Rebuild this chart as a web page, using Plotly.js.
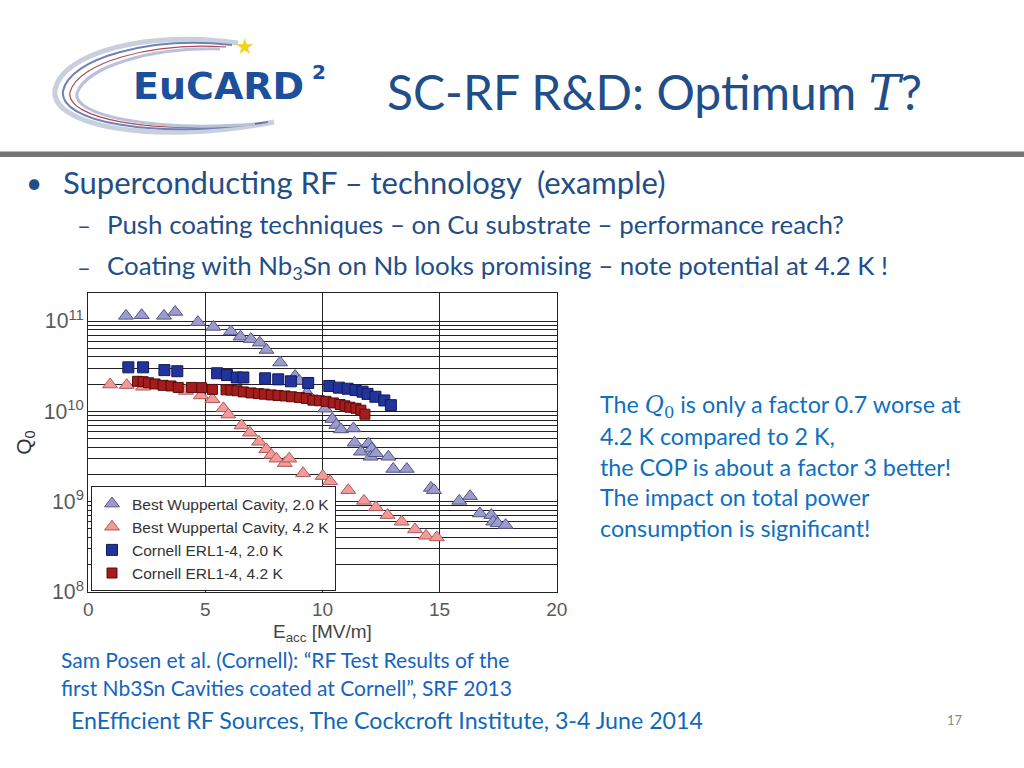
<!DOCTYPE html>
<html>
<head>
<meta charset="utf-8">
<script src="https://cdn.plot.ly/plotly-3.0.1.min.js"></script>
<style>
  html, body { margin: 0; padding: 0; background: #ffffff; }
  #slide { width: 1024px; height: 768px; }
</style>
</head>
<body>
<div id="slide"></div>
<script>
// ---------------- DATA ----------------
// Best Wuppertal Cavity, 2.0 K
const wupp20_E = [1.61, 2.28, 3.23, 3.71, 4.68, 5.34, 6.09, 6.50, 6.94, 7.32, 7.61, 8.19, 8.83, 9.01, 9.34,
                  10.11, 10.42, 10.59, 10.79, 11.32, 11.37, 11.64, 11.96, 12.10, 12.06, 12.28, 12.81, 13.02, 13.60,
                  14.63, 14.76, 15.84, 16.30, 16.72, 17.21, 17.29, 17.48, 17.82];
const wupp20_Q = [1.14e11, 1.16e11, 1.14e11, 1.26e11, 9.7e10, 8.6e10, 7.66e10, 6.7e10, 6.3e10, 5.75e10, 4.78e10, 3.47e10, 2.46e10, 2.17e10, 1.6e10,
                  1.07e10, 8.2e9, 7.05e9, 6.3e9, 6.46e9, 4.49e9, 3.57e9, 4.4e9, 3.87e9, 3.14e9, 3.43e9, 3.14e9, 2.3e9, 2.3e9,
                  1.42e9, 1.34e9, 1.02e9, 1.15e9, 7.4e8, 7.1e8, 6.0e8, 5.75e8, 5.5e8];
// Best Wuppertal Cavity, 4.2 K
const wupp42_E = [0.93, 1.64, 2.34, 4.17, 4.81, 5.30, 5.77, 5.98, 6.54, 6.90, 7.29, 7.60, 7.81, 8.03, 8.39, 8.58,
                  9.17, 10.01, 10.32, 11.10, 11.77, 12.28, 12.78, 13.38, 13.95, 14.42, 14.88];
const wupp42_Q = [1.98e10, 1.95e10, 1.87e10, 1.68e10, 1.50e10, 1.36e10, 1.08e10, 9.2e9, 6.97e9, 5.8e9, 4.6e9, 3.8e9, 3.28e9, 2.99e9, 2.67e9, 2.99e9,
                  2.06e9, 1.92e9, 1.68e9, 1.34e9, 1.02e9, 8.65e8, 7.1e8, 5.99e8, 4.93e8, 4.19e8, 4.02e8];
// Cornell ERL1-4, 2.0 K
const cornell20_E = [1.71, 2.34, 3.25, 3.80, 5.50, 5.92, 6.34, 6.62, 7.55, 8.11, 8.65, 9.39, 10.29, 10.70, 11.07,
                     11.41, 11.71, 11.92, 12.26, 12.64, 12.92];
const cornell20_Q = [3.07e10, 3.07e10, 2.86e10, 2.78e10, 2.64e10, 2.52e10, 2.37e10, 2.37e10, 2.32e10, 2.26e10, 2.15e10, 2.06e10, 1.91e10, 1.83e10, 1.78e10,
                     1.72e10, 1.65e10, 1.56e10, 1.45e10, 1.32e10, 1.17e10];
// Cornell ERL1-4, 4.2 K
const cornell42_E = [2.10, 2.34, 2.57, 2.85, 3.19, 3.53, 3.84, 4.41, 4.84, 5.30, 5.88, 6.09, 6.35, 6.62, 6.95, 7.26, 7.52,
                     7.81, 8.10, 8.40, 8.68, 9.02, 9.31, 9.59, 9.87, 10.15, 10.46, 10.75, 10.96, 11.17, 11.43, 11.64, 11.81];
const cornell42_Q = [2.15e10, 2.13e10, 2.07e10, 2.01e10, 1.94e10, 1.91e10, 1.84e10, 1.84e10, 1.83e10, 1.75e10, 1.73e10, 1.72e10, 1.69e10, 1.64e10, 1.60e10, 1.57e10, 1.55e10,
                     1.52e10, 1.50e10, 1.48e10, 1.45e10, 1.42e10, 1.39e10, 1.33e10, 1.31e10, 1.29e10, 1.24e10, 1.19e10, 1.15e10, 1.11e10, 1.08e10, 1.03e10, 9.3e9];

const seriesNames = ["Best Wuppertal Cavity, 2.0 K", "Best Wuppertal Cavity, 4.2 K",
                     "Cornell ERL1-4, 2.0 K", "Cornell ERL1-4, 4.2 K"];
const xTickVals = [0, 5, 10, 15, 20];

// ---------------- helpers: slide pixel -> paper fraction ----------------
const W = 1024, H = 768;
const PX = p => p / W;
const PY = p => 1 - p / H;

const ser = "font-family:'DejaVu Serif'";
const darkBlue = "#1f4e89";
const lightBlue = "#1068b8";
const txt = (text, x, y, size, color, extra) => Object.assign({
  text: text, x: PX(x), y: PY(y), xref: "paper", yref: "paper",
  xanchor: "left", yanchor: "middle", showarrow: false,
  font: {family: "Lato, 'Open Sans', sans-serif", size: size, color: color}
}, extra || {});

// path helper (pixel coordinates -> paper path)
function pth(cmds) {
  return cmds.map(c => {
    if (typeof c === "string") return c;
    return PX(c[0]).toFixed(5) + "," + PY(c[1]).toFixed(5);
  }).join(" ");
}

// ---------------- traces ----------------
const traces = [
  {x: wupp20_E, y: wupp20_Q, name: seriesNames[0], type: "scatter", mode: "markers",
   marker: {symbol: "triangle-up", size: 13, color: "#9c9ccc", line: {color: "#54548a", width: 1}}},
  {x: wupp42_E, y: wupp42_Q, name: seriesNames[1], type: "scatter", mode: "markers",
   marker: {symbol: "triangle-up", size: 13, color: "#f09a9a", line: {color: "#b05a5a", width: 1}}},
  {x: cornell20_E, y: cornell20_Q, name: seriesNames[2], type: "scatter", mode: "markers",
   marker: {symbol: "square", size: 11, color: "#22339a", line: {color: "#101a5a", width: 1}}},
  {x: cornell42_E, y: cornell42_Q, name: seriesNames[3], type: "scatter", mode: "markers",
   marker: {symbol: "square", size: 10, color: "#a51c1c", line: {color: "#5a0c0c", width: 1}}}
];

// ---------------- layout ----------------
const gridCol = "#222222";
const axFont = "'Liberation Sans', Arial, sans-serif";
const layout = {
  width: W, height: H,
  margin: {l: 0, r: 0, t: 0, b: 0},
  paper_bgcolor: "#ffffff", plot_bgcolor: "#ffffff",
  showlegend: true,
  xaxis: {
    domain: [PX(88.3), PX(556.7)], range: [0, 20], automargin: false,
    tickmode: "array", tickvals: xTickVals,
    showgrid: true, gridcolor: gridCol, gridwidth: 1,
    showline: true, mirror: true, linecolor: gridCol, linewidth: 1,
    zeroline: false, ticks: "",
    tickfont: {family: axFont, size: 19, color: "#5a5a5a"}
  },
  yaxis: {
    domain: [PY(592), PY(293)], type: "log", range: [8, 11.31], automargin: false,
    tickmode: "linear", tick0: 0, dtick: 1, exponentformat: "power", showexponent: "all",
    showgrid: true, gridcolor: gridCol, gridwidth: 1,
    minor: {dtick: "D1", showgrid: true, gridcolor: gridCol, gridwidth: 1, ticks: ""},
    showline: true, mirror: true, linecolor: gridCol, linewidth: 1,
    zeroline: false, ticks: "",
    tickfont: {family: axFont, size: 17, color: "#5a5a5a"},
    title: {text: "Q<sub>0</sub>", standoff: 6,
            font: {family: axFont, size: 21, color: "#333"}}
  },
  legend: {
    x: PX(91), y: PY(591), xanchor: "left", yanchor: "bottom",
    bgcolor: "#ffffff", bordercolor: gridCol, borderwidth: 1,
    font: {family: axFont, size: 15.5, color: "#333"},
    tracegroupgap: 0, itemwidth: 30
  },
  shapes: [
    // grey divider bar under the title
    {type: "rect", xref: "paper", yref: "paper", x0: 0, x1: 1, y0: PY(157), y1: PY(151.5),
     fillcolor: "#757575", line: {width: 0}, layer: "below"},
    // logo swoosh
    {type: "path", xref: "paper", yref: "paper", layer: "above",
     path: pth(["M", [238, 43], "C", [150, 30], [62, 52], [55, 90], "C", [50, 125], [150, 146], [274, 122]]),
     line: {color: "#c9cfdc", width: 5}},
    {type: "path", xref: "paper", yref: "paper", layer: "above",
     path: pth(["M", [232, 45], "C", [150, 36], [70, 58], [63, 91], "C", [58, 121], [150, 140], [268, 122]]),
     line: {color: "#6f82b8", width: 2}},
    {type: "path", xref: "paper", yref: "paper", layer: "above",
     path: pth(["M", [226, 47], "C", [150, 42], [78, 63], [70, 92], "C", [65, 118], [150, 136], [262, 123]]),
     line: {color: "#b04a5a", width: 1.2}},
    {type: "path", xref: "paper", yref: "paper", layer: "above",
     path: pth(["M", [220, 49], "C", [150, 47], [86, 67], [77, 93], "C", [72, 115], [150, 132], [255, 124]]),
     line: {color: "#b8c2d8", width: 3}}
  ],
  annotations: [
    // x axis title
    {text: "E<sub>acc</sub> [MV/m]", x: PX(322), y: PY(633), xref: "paper", yref: "paper",
     xanchor: "center", yanchor: "middle", showarrow: false,
     font: {family: axFont, size: 19, color: "#444"}},
    // logo text
    txt("EuCARD", 131, 86, 38, "#1c4f9c", {font: {family: "'DejaVu Sans', sans-serif", size: 38, color: "#1c4f9c", weight: 700}}),
    txt("2", 310, 72, 20, "#1c4f9c", {font: {family: "'DejaVu Sans', sans-serif", size: 20, color: "#1c4f9c", weight: 700}}),
    txt("★", 233, 46, 22, "#f2d31b", {font: {family: "'DejaVu Sans', sans-serif", size: 22, color: "#f2d31b"}}),
    // title
    txt("SC-RF R&amp;D: Optimum <span style=\"" + ser + "\"><i>T</i></span>?", 385, 92, 48, darkBlue),
    // bullets
    txt("•", 24, 182, 28, darkBlue),
    txt("Superconducting RF – technology  (example)", 61, 182, 31, darkBlue),
    txt("–", 75, 224, 24, darkBlue),
    txt("Push coating techniques – on Cu substrate – performance reach?", 105, 224, 25.9, darkBlue),
    txt("–", 75, 266, 24, darkBlue),
    txt("Coating with Nb<sub>3</sub>Sn on Nb looks promising – note potential at 4.2 K !", 105, 266, 25.9, darkBlue),
    // right text block
    txt("The <span style=\"" + ser + "\"><i>Q</i><sub>0</sub></span> is only a factor 0.7 worse at", 598, 406, 23.3, "#0f6fc0"),
    txt("4.2 K compared to 2 K,", 598, 436, 23.3, "#0f6fc0"),
    txt("the COP is about a factor 3 better!", 598, 467, 23.3, "#0f6fc0"),
    txt("The impact on total power", 598, 497, 23.3, "#0f6fc0"),
    txt("consumption is significant!", 598, 528, 23.3, "#0f6fc0"),
    // citation
    txt("Sam Posen et al. (Cornell): “RF Test Results of the", 59, 659, 21, "#1565c0"),
    txt("first Nb3Sn Cavities coated at Cornell”, SRF 2013", 59, 687, 21, "#1565c0"),
    // footer
    txt("EnEfficient RF Sources, The Cockcroft Institute, 3-4 June 2014", 69, 720, 23.2, lightBlue),
    txt("17", 945, 720, 13, "#8a8a8a")
  ]
};

Plotly.newPlot("slide", traces, layout, {displayModeBar: false, staticPlot: true});
</script>
</body>
</html>
